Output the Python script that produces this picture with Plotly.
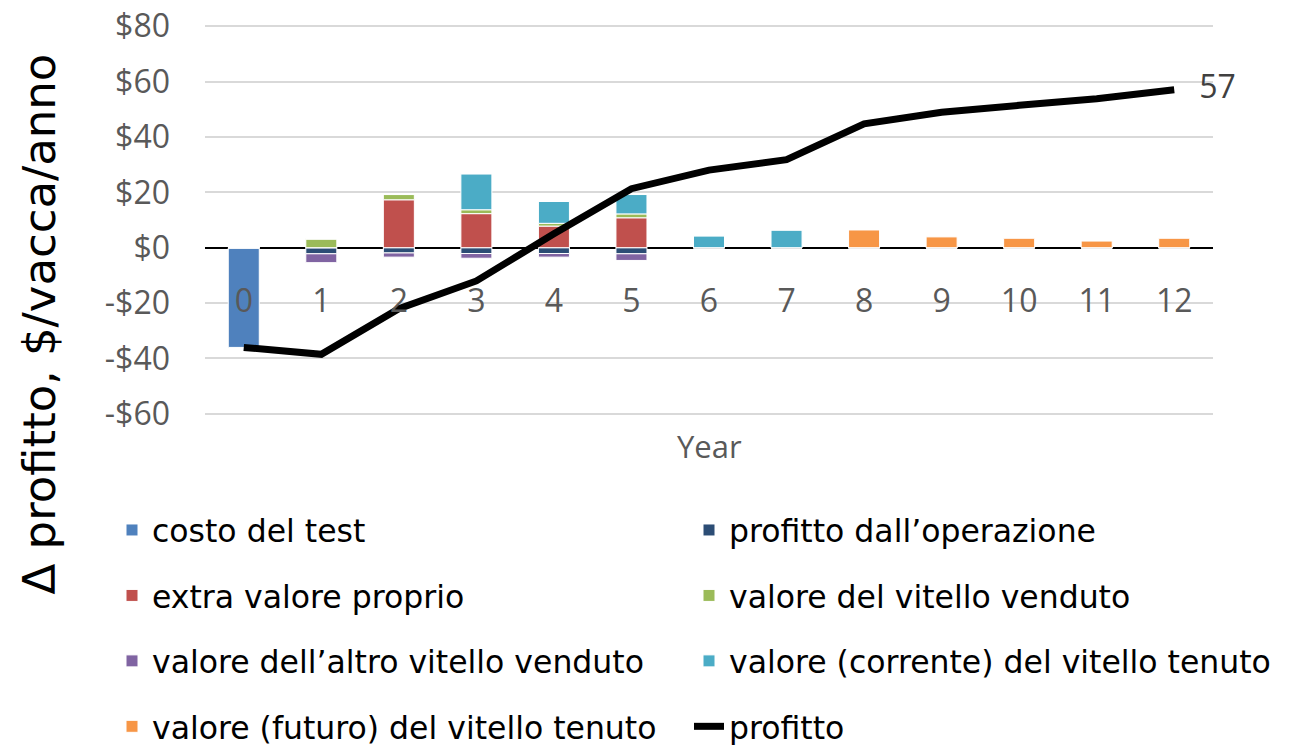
import plotly.graph_objects as go

# ------------------------------------------------------------
# Dati (Δ profitto, $/vacca/anno per anno)
# ------------------------------------------------------------
YEARS = list(range(13))

COSTO_TEST       = [-36, 0, 0, 0, 0, 0, 0, 0, 0, 0, 0, 0, 0]
PROFITTO_OPERAZ  = [0, -2.2, -1.9, -2.1, -2.1, -2.2, 0, 0, 0, 0, 0, 0, 0]
EXTRA_VALORE     = [0, 0, 17.3, 12.3, 7.8, 10.8, 0, 0, 0, 0, 0, 0, 0]
VITELLO_VENDUTO  = [0, 3.2, 1.9, 1.4, 1.0, 1.4, 0, 0, 0, 0, 0, 0, 0]
ALTRO_VITELLO    = [0, -3.2, -1.5, -1.7, -1.3, -2.4, 0, 0, 0, 0, 0, 0, 0]
CORRENTE_TENUTO  = [0, 0, 0, 13.0, 7.9, 7.0, 4.3, 6.4, 0, 0, 0, 0, 0]
FUTURO_TENUTO    = [0, 0, 0, 0, 0, 0, 0, 0, 6.4, 3.9, 3.4, 2.4, 3.4]
PROFITTO         = [-36, -38.5, -22, -12, 5, 21.3, 28, 31.8, 44.7, 48.9, 51.4, 53.8, 57]
PROFITTO_LABELS  = [""] * 12 + ["57"]

Y_TICKVALS = [-60, -40, -20, 0, 20, 40, 60, 80]
Y_TICKTEXT = ["-$60", "-$40", "-$20", "$0", "$20", "$40", "$60", "$80"]

# (nome, valori, colore, legenda)
BAR_SERIES = [
    ("costo del test", COSTO_TEST, "#4F81BD", "legend"),
    ("profitto dall’operazione", PROFITTO_OPERAZ, "#2C4D75", "legend2"),
    ("extra valore proprio", EXTRA_VALORE, "#C0504D", "legend"),
    ("valore del vitello venduto", VITELLO_VENDUTO, "#9BBB59", "legend2"),
    ("valore dell’altro vitello venduto", ALTRO_VITELLO, "#8064A2", "legend"),
    ("valore (corrente) del vitello tenuto", CORRENTE_TENUTO, "#4BACC6", "legend2"),
    ("valore (futuro) del vitello tenuto", FUTURO_TENUTO, "#F79646", "legend"),
]

W, H = 1289, 745
L, R, T, B = 197, 84, 17, 338
PW, PH = W - L - R, H - T - B
TICK_FONT = dict(family="Open Sans", size=32, color="#595959")
LEG_FONT = dict(family="DejaVu Sans", size=31.5, color="#000000")

fig = go.Figure()

for name, vals, color, leg in BAR_SERIES:
    fig.add_trace(go.Bar(
        x=YEARS, y=vals, name=name, legend=leg, legendgroup=name,
        marker=dict(color=color, line=dict(color="white", width=1)),
        width=0.4,
    ))

fig.add_trace(go.Scatter(
    x=YEARS, y=PROFITTO, name="profitto", legend="legend2", legendgroup="profitto",
    mode="lines+text", text=PROFITTO_LABELS, texttemplate="   %{text}",
    textposition="middle right", cliponaxis=False,
    textfont=dict(family="Open Sans", size=32, color="#404040"),
    line=dict(color="black", width=7),
))

fig.update_layout(
    width=W, height=H,
    barmode="relative",
    paper_bgcolor="white", plot_bgcolor="white",
    margin=dict(l=L, r=R, t=T, b=B, autoexpand=False),
    font=dict(family="Open Sans"),
    legend=dict(
        xref="container", yref="container", x=104 / W, y=1 - 495 / H,
        xanchor="left", yanchor="top", orientation="v",
        font=LEG_FONT, tracegroupgap=21.5, bgcolor="rgba(0,0,0,0)",
    ),
    legend2=dict(
        xref="container", yref="container", x=681 / W, y=1 - 495 / H,
        xanchor="left", yanchor="top", orientation="v",
        font=LEG_FONT, tracegroupgap=21.5, bgcolor="rgba(0,0,0,0)",
    ),
    showlegend=True,
)

# asse x posizionato sullo zero dell'asse y
Y_RANGE = [-60.4, 80.4]
fig.update_xaxes(
    range=[-0.5, 12.5], tickvals=YEARS, ticktext=[str(y) for y in YEARS],
    anchor="free", position=-Y_RANGE[0] / (Y_RANGE[1] - Y_RANGE[0]),
    showgrid=False, showline=False, ticks="", ticklabelstandoff=31,
    tickfont=TICK_FONT, zeroline=False, automargin=False,
)
fig.update_yaxes(
    range=Y_RANGE, tickvals=Y_TICKVALS, ticktext=Y_TICKTEXT,
    showgrid=True, gridcolor="#D9D9D9", gridwidth=1.5,
    zeroline=True, zerolinecolor="black", zerolinewidth=2,
    ticks="", ticklabelstandoff=34, tickfont=TICK_FONT, automargin=False,
    ticklabeloverflow="allow",
)

fig.add_annotation(
    text="Year", xref="paper", yref="paper", x=0.5, y=-0.08,
    xanchor="center", yanchor="middle", showarrow=False,
    font=dict(family="Open Sans", size=31, color="#595959"),
)
fig.add_annotation(
    text="Δ profitto, $/vacca/anno", xref="paper", yref="paper",
    x=(2 - L) / PW, y=(T + PH - 316) / PH, xanchor="left", yanchor="middle",
    textangle=-90, showarrow=False,
    font=dict(family="DejaVu Sans", size=45, color="#000000"),
)

fig.write_html("out.html")
